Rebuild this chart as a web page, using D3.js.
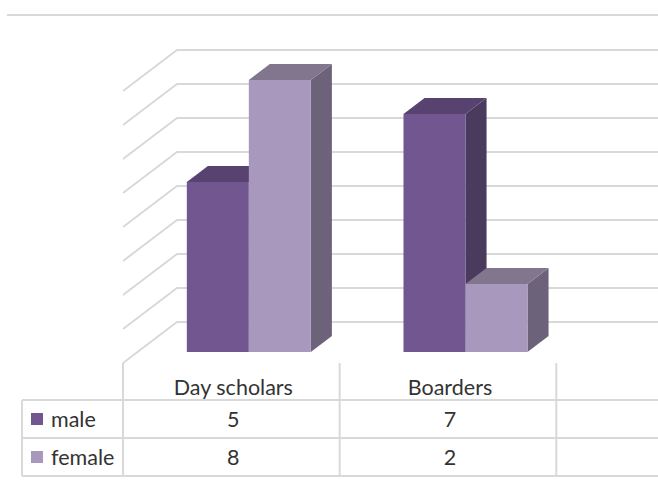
<!DOCTYPE html>
<html><head><meta charset="utf-8">
<script src="https://cdn.jsdelivr.net/npm/d3@7"></script>
<style>body{margin:0;background:#fff}svg{display:block}</style>
</head><body>
<script>
const categories = ["Day scholars", "Boarders"];
const seriesNames = ["male", "female"];
const male = [5, 7];
const female = [8, 2];
const gridTicks = [0, 1, 2, 3, 4, 5, 6, 7, 8];

const W = 658, H = 487;
const svg = d3.select("body").append("svg").attr("width", W).attr("height", H);
const grid = "#d9d9d9";
const font = "Lato, 'Open Sans', sans-serif";

// top chart border
svg.append("line").attr("x1", 7).attr("x2", W).attr("y1", 15).attr("y2", 15)
  .attr("stroke", grid).attr("stroke-width", 2);

// front-plane geometry
const x0 = d3.scaleBand().domain([...categories, ""]).range([123, 773]).padding(0);
const y = d3.scaleLinear().domain([0, 8]).range([363, 91]);
const DX = 54, DY = -41; // full depth
const t1 = 11 / 41, t2 = 27 / 41;
const P = (x, v, t) => [x + t * DX, y(v) + t * DY];

// side wall + back wall gridlines
const g = svg.append("g");
gridTicks.forEach(v => {
  const a = P(123, v, 0), b = P(123, v, 1);
  g.append("path").attr("d", `M${a[0]},${a[1]}L${b[0]},${b[1]}L${W},${b[1]}`)
    .attr("fill", "none").attr("stroke", grid).attr("stroke-width", 2);
});

// bars
const inner = d3.scaleBand().domain(seriesNames).range([0, 124]);
const colors = {
  male: { front: "#725690", top: "#574270", side: "#4a3a5e" },
  female: { front: "#a898be", top: "#82768f", side: "#6c637a" }
};
const vals = { male, female };
categories.forEach((c, i) => {
  const gx = x0(c) + x0.bandwidth() / 2 - 62 + 3;
  seriesNames.forEach(s => {
    const v = vals[s][i];
    const xl = gx + inner(s), xr = xl + inner.bandwidth();
    const fbl = P(xl, 0, t1), fbr = P(xr, 0, t1), ftl = P(xl, v, t1), ftr = P(xr, v, t1);
    const btl = P(xl, v, t2), btr = P(xr, v, t2), bbr = P(xr, 0, t2);
    const pts = a => a.map(p => p.join(",")).join(" ");
    svg.append("polygon").attr("points", pts([fbr, ftr, btr, bbr])).attr("fill", colors[s].side);
    svg.append("polygon").attr("points", pts([ftl, ftr, btr, btl])).attr("fill", colors[s].top);
    svg.append("polygon").attr("points", pts([fbl, ftl, ftr, fbr])).attr("fill", colors[s].front);
  });
});

// data table
const tl = svg.append("g").attr("stroke", grid).attr("stroke-width", 2);
[400, 438, 476].forEach(yy => tl.append("line").attr("x1", 22).attr("x2", W).attr("y1", yy).attr("y2", yy));
tl.append("line").attr("x1", 22).attr("x2", 22).attr("y1", 400).attr("y2", 476);
[...categories, ""].forEach(c => {
  const xx = x0(c);
  tl.append("line").attr("x1", xx).attr("x2", xx).attr("y1", 363).attr("y2", 476);
});

const txt = svg.append("g").attr("font-family", font).attr("font-size", 21.5).attr("fill", "#333333");
categories.forEach((c, i) => {
  const cx = x0(c) + x0.bandwidth() / 2 + 2;
  txt.append("text").attr("x", cx).attr("y", 387).attr("text-anchor", "middle").attr("dominant-baseline", "central").text(c);
  txt.append("text").attr("x", cx).attr("y", 419).attr("text-anchor", "middle").attr("dominant-baseline", "central").text(male[i]);
  txt.append("text").attr("x", cx).attr("y", 457).attr("text-anchor", "middle").attr("dominant-baseline", "central").text(female[i]);
});
seriesNames.forEach((s, j) => {
  const cy = 419 + j * 38;
  svg.append("rect").attr("x", 31).attr("y", cy - 6).attr("width", 12).attr("height", 12).attr("fill", colors[s].front);
  txt.append("text").attr("x", 51).attr("y", cy).attr("dominant-baseline", "central").text(s);
});
</script>
</body></html>
